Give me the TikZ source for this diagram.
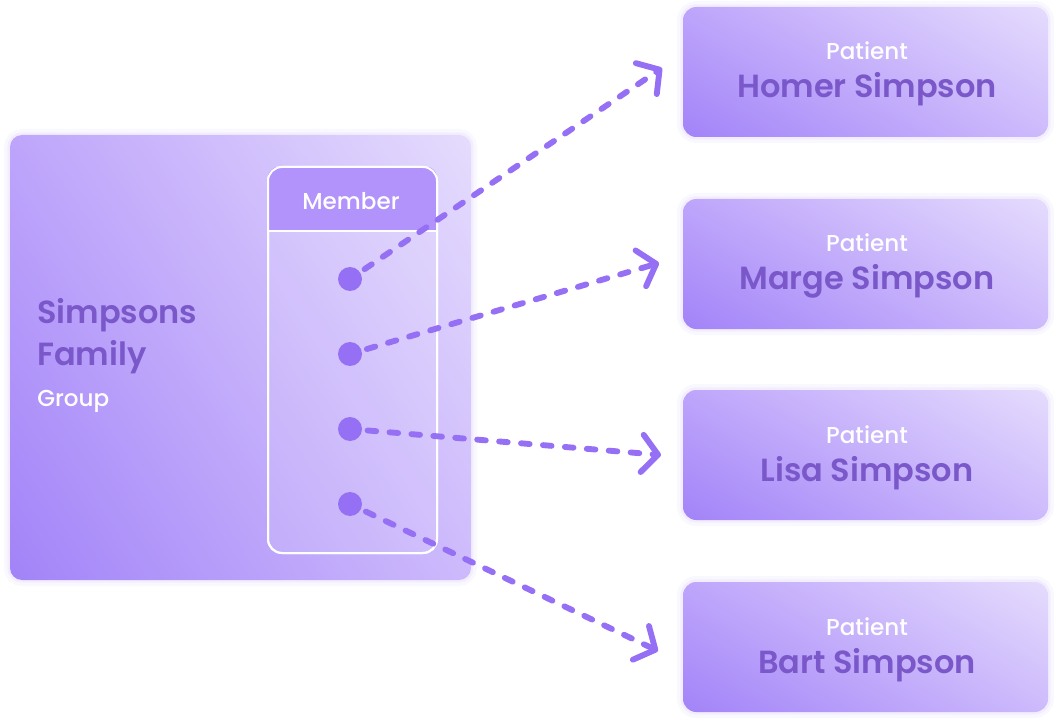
\documentclass[tikz,border=0pt]{standalone}
\usepackage{fontspec}
\setmainfont{Poppins}[BoldFont={Poppins SemiBold}]
\newfontfamily\popmed{Poppins Medium}
\usetikzlibrary{arrows.meta,shadings}
\definecolor{pLL}{HTML}{A283F8}
\definecolor{pUL}{HTML}{BEA5FB}
\definecolor{pLR}{HTML}{CDBAFC}
\definecolor{pUR}{HTML}{E5DCFD}
\definecolor{headC}{HTML}{B292FB}
\definecolor{nameC}{HTML}{7A58C9}
\definecolor{dotC}{HTML}{9570F5}
\definecolor{glowC}{HTML}{C9B6FB}
\tikzset{
  glow/.style={preaction={draw=glowC, line width=9pt, draw opacity=0.10},
               preaction={draw=glowC, line width=4pt, draw opacity=0.15}},
  card/.style={rectangle, rounded corners=10pt, glow,
    lower left=pLL, upper left=pUL, lower right=pLR, upper right=pUR,
    minimum width=273.75pt, minimum height=97.5pt, inner sep=0pt},
  groupbox/.style={rectangle, rounded corners=9pt, glow,
    lower left=pLL, upper left=pUL, lower right=pLR, upper right=pUR,
    minimum width=345.75pt, minimum height=333.75pt, inner sep=0pt},
  memberbox/.style={rectangle, rounded corners=10.5pt, draw=white, line width=1.5pt,
    minimum width=126.75pt, minimum height=289.5pt, inner sep=0pt},
  smalltext/.style={text=white, font=\popmed\fontsize{17.3}{20}\selectfont, inner sep=0pt},
  bigtext/.style={text=nameC, font=\fontsize{24}{30}\selectfont\bfseries, inner sep=0pt},
  dot/.style={circle, fill=dotC, minimum size=18pt, inner sep=0pt},
  link/.style={draw=dotC, line width=4.4pt, line cap=round,
    dash pattern=on 6.5pt off 10pt, shorten <=4pt,
    -{Straight Barb[length=12pt,width=28pt,round]}}
}
\begin{document}
\begin{tikzpicture}[x=0.75pt,y=-0.75pt]
\useasboundingbox (0,0) rectangle (1060,727);
% group box
\node[groupbox] (group) at (240.5,357.5) {};
\node[bigtext, anchor=base west] (gname1) at (37,323) {Simpsons};
\node[bigtext, anchor=base west] (gname2) at (37,365) {Family};
\node[smalltext, anchor=base west] (gtype) at (37,406) {Group};
% member box
\node[memberbox] (member) at (352.5,360) {};
\begin{scope}
  \clip[rounded corners=10.5pt] (member.south west) rectangle (member.north east);
  \fill[white, opacity=0.10] (member.south west) rectangle (member.north east);
  \fill[headC] (268,167) rectangle (437,231);
\end{scope}
\draw[white, line width=1.5pt] (268,231) -- (437,231);
\node[memberbox] (memberframe) at (352.5,360) {};
\node[smalltext, anchor=base] (mlabel) at (351,210) {Member};
% dots
\node[dot] (d1) at (350,279) {};
\node[dot] (d2) at (350,354) {};
\node[dot] (d3) at (350,429) {};
\node[dot] (d4) at (350,504) {};
% patient cards
\node[card] (homer) at (865.5,72) {};
\node[smalltext, anchor=base] (homerT) at (867,60) {Patient};
\node[bigtext, anchor=base] (homerN) at (867,98) {Homer Simpson};
\node[card] (marge) at (865.5,264) {};
\node[smalltext, anchor=base] (margeT) at (867,252) {Patient};
\node[bigtext, anchor=base] (margeN) at (867,290) {Marge Simpson};
\node[card] (lisa) at (865.5,455) {};
\node[smalltext, anchor=base] (lisaT) at (867,443) {Patient};
\node[bigtext, anchor=base] (lisaN) at (867,481) {Lisa Simpson};
\node[card] (bart) at (865.5,647) {};
\node[smalltext, anchor=base] (bartT) at (867,635) {Patient};
\node[bigtext, anchor=base] (bartN) at (867,673) {Bart Simpson};
% arrow tips
\coordinate (t1) at (662,68);
\coordinate (t2) at (659,263);
\coordinate (t3) at (661,455);
\coordinate (t4) at (658,651);
\draw[link] (d1) -- (t1);
\draw[link] (d2) -- (t2);
\draw[link] (d3) -- (t3);
\draw[link] (d4) -- (t4);
\end{tikzpicture}
\end{document}
